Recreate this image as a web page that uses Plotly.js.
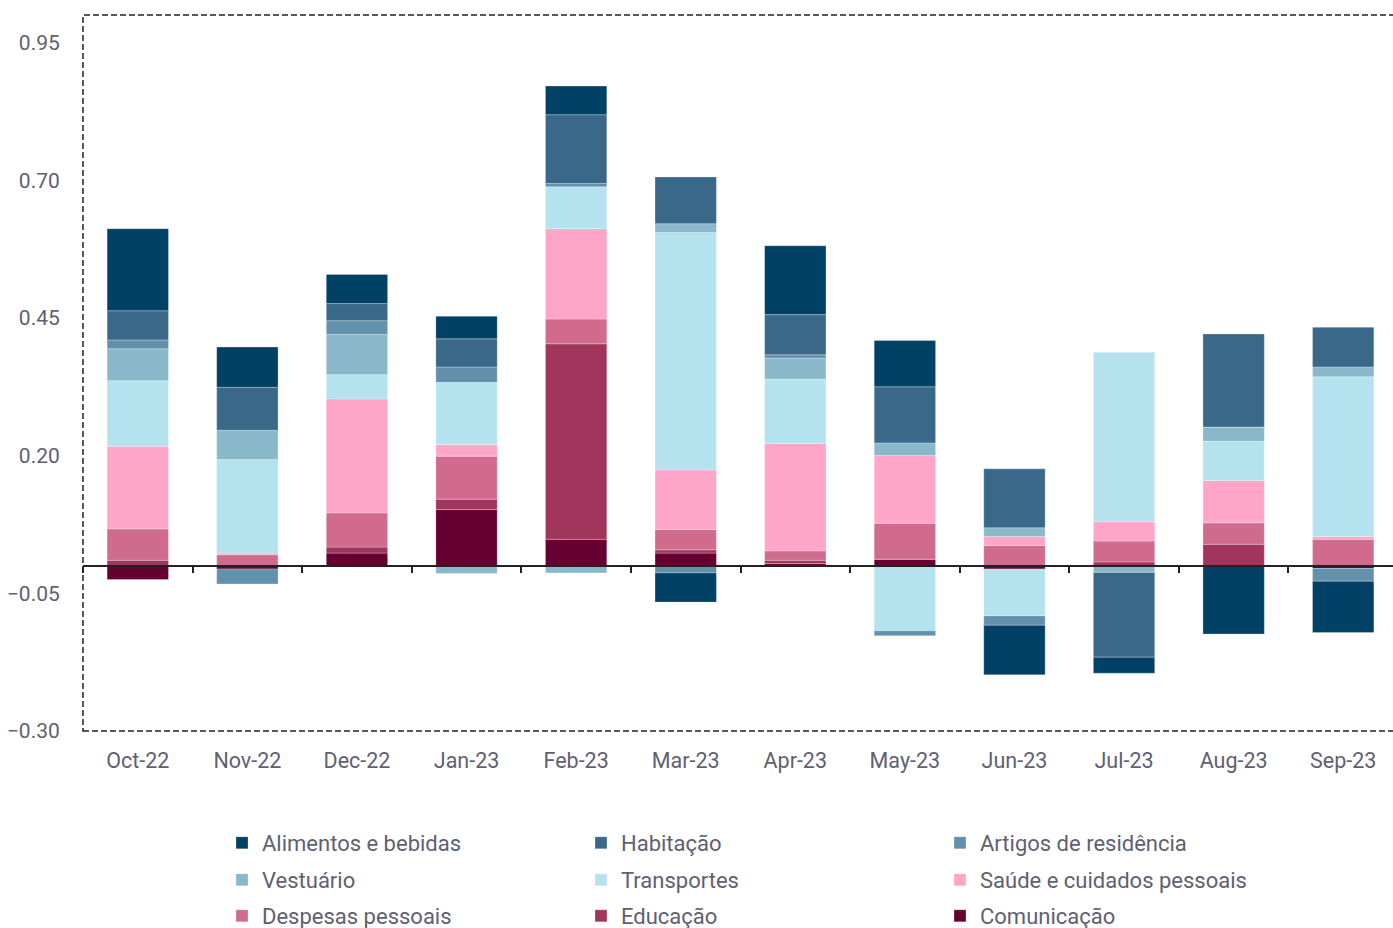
<!DOCTYPE html>
<html>
<head>
<meta charset="utf-8">
<script src="https://cdn.plot.ly/plotly-3.0.1.min.js"></script>
<style>
html,body{margin:0;padding:0;overflow:hidden;background:#fff;}
#chart{width:1400px;height:928px;}
</style>
</head>
<body>
<div id="chart"></div>
<script>
const months = ['Oct-22','Nov-22','Dec-22','Jan-23','Feb-23','Mar-23','Apr-23','May-23','Jun-23','Jul-23','Aug-23','Sep-23'];
const alimentos    = [0.149, 0.073, 0.053, 0.041, 0.052, -0.053, 0.125, 0.084, -0.090, -0.029, -0.124, -0.093];
const habitacao    = [0.053, 0.078, 0.031, 0.051, 0.125, 0.085, 0.073, 0.102, 0.107, -0.154, 0.169, 0.072];
const artigos      = [0.016, -0.027, 0.025, 0.028, 0.006, -0.013, 0.006, -0.009, -0.017, 0.000, 0.000, -0.023];
const vestuario    = [0.058, 0.053, 0.073, -0.014, -0.013, 0.016, 0.038, 0.023, 0.016, -0.012, 0.026, 0.018];
const transportes  = [0.119, 0.170, 0.044, 0.113, 0.076, 0.431, 0.117, -0.118, -0.085, 0.308, 0.071, 0.290];
const saude        = [0.150, 0.003, 0.207, 0.021, 0.164, 0.108, 0.195, 0.123, 0.016, 0.035, 0.077, 0.005];
const despesas     = [0.057, 0.020, 0.062, 0.078, 0.045, 0.037, 0.017, 0.065, 0.037, 0.038, 0.039, 0.048];
const educacao     = [0.010, 0.000, 0.011, 0.019, 0.355, 0.006, 0.006, 0.000, 0.000, 0.007, 0.039, 0.000];
const comunicacao  = [-0.025, -0.006, 0.023, 0.102, 0.048, 0.023, 0.004, 0.012, -0.006, 0.000, 0.000, -0.005];

// stacking order: first = closest to zero
const seriesNames = ['Comunicação','Educação','Despesas pessoais','Saúde e cuidados pessoais','Transportes','Vestuário','Artigos de residência','Habitação','Alimentos e bebidas'];
const seriesData = [comunicacao, educacao, despesas, saude, transportes, vestuario, artigos, habitacao, alimentos];
const seriesColors = ['#660030','#a0365c','#d06b8e','#ffa5c8','#b4e3ef','#8ab8cb','#6390ab','#3a6889','#004165'];
const legendRow = ['legend3','legend3','legend3','legend2','legend2','legend2','legend','legend','legend'];

const traces = seriesNames.map((n,i)=>({
  type:'bar', name:n, x:months, y:seriesData[i], legend:legendRow[i],
  marker:{color:seriesColors[i], line:{color:'rgba(255,255,255,0.45)', width:0.6}},
  hoverinfo:'x+y+name'
}));

const FONT = 'Roboto, "Noto Sans", sans-serif';
const TXT = '#5f6072';
function legendRowCfg(yPix){
  return {
    orientation:'h', traceorder:'reversed',
    xref:'container', x:222/1400, xanchor:'left',
    yref:'container', y:(928 - yPix)/928, yanchor:'middle',
    entrywidth:314, entrywidthmode:'pixels',
    itemwidth:30, borderwidth:0, bgcolor:'rgba(0,0,0,0)',
    font:{family:FONT, size:22, color:TXT}
  };
}

const layout = {
  width:1400, height:928,
  margin:{l:83, r:2, t:15, b:197, autoexpand:false},
  barmode:'relative',
  bargap:0.44,
  showlegend:true,
  paper_bgcolor:'#fff', plot_bgcolor:'#fff',
  font:{family:FONT, color:TXT, size:19},
  xaxis:{
    type:'category', categoryorder:'array', categoryarray:months,
    range:[-0.5, 11.5],
    showgrid:false, zeroline:false, showline:false,
    ticks:'outside', ticklen:10, tickcolor:'rgba(0,0,0,0)',
    tickfont:{family:FONT, size:21.5, color:TXT}
  },
  xaxis2:{
    overlaying:'x', anchor:'free', position:0.23077,
    range:[-0.5, 11.5], tick0:-0.5, dtick:1,
    showgrid:false, zeroline:false, showline:true, linecolor:'#222', linewidth:1.5,
    ticks:'outside', ticklen:6, tickcolor:'#222', tickwidth:1.5,
    showticklabels:false
  },
  yaxis:{
    range:[-0.30, 1.00], tick0:-0.30, dtick:0.25, tickformat:'.2f',
    showgrid:false, zeroline:false, showline:false,
    ticks:'outside', ticklen:18, tickcolor:'rgba(0,0,0,0)',
    tickfont:{family:FONT, size:21, color:TXT}
  },
  legend: legendRowCfg(843),
  legend2: legendRowCfg(880),
  legend3: legendRowCfg(916),
  shapes:[{
    type:'rect', xref:'paper', yref:'paper', x0:0, x1:1, y0:0, y1:1,
    line:{color:'#222', width:1.5, dash:'6px,3px'}, layer:'above'
  }]
};

// invisible helper trace so the zero-level axis (xaxis2) is drawn
traces.push({type:'scatter', x:[0], y:[0], xaxis:'x2', yaxis:'y', mode:'markers', marker:{opacity:0}, showlegend:false, hoverinfo:'skip'});

Plotly.newPlot('chart', traces, layout, {displayModeBar:false, responsive:false});
</script>
</body>
</html>
